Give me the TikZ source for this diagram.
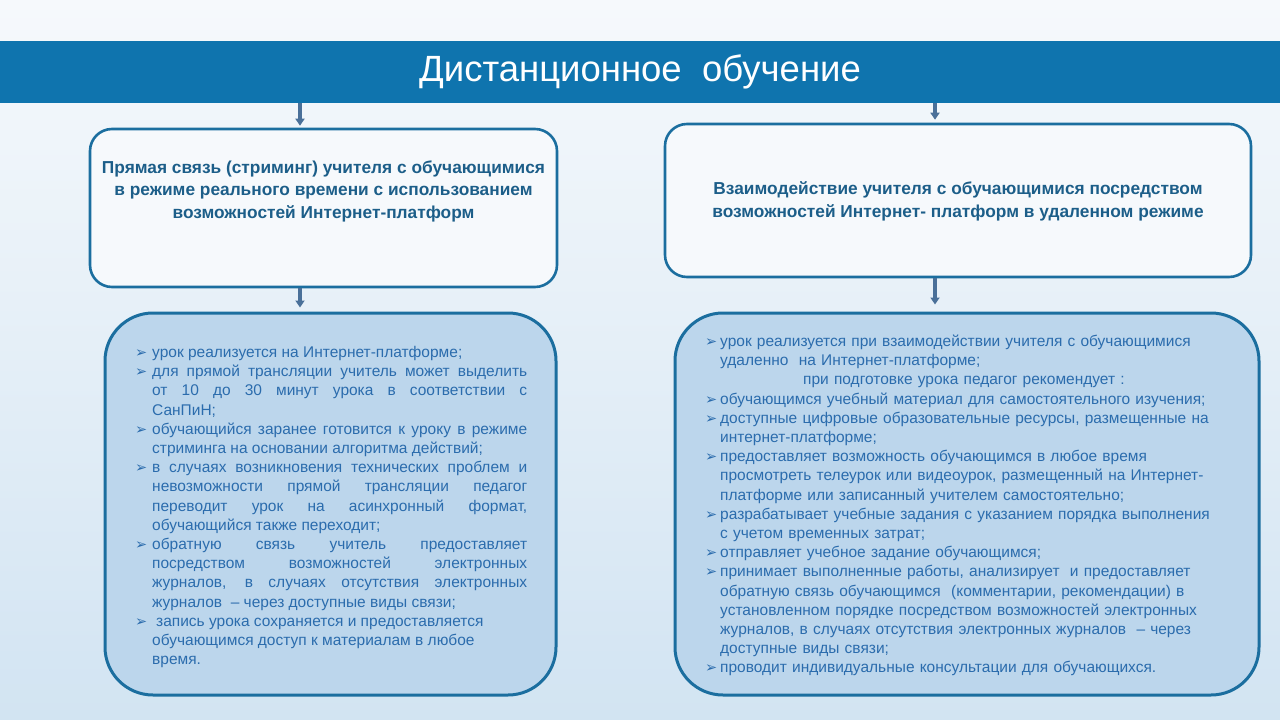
\documentclass[tikz,border=0pt]{standalone}
\usepackage{fontspec}
\setmainfont{Liberation Sans}
\newfontfamily\symfont{DejaVu Sans}
\usetikzlibrary{arrows.meta}
\definecolor{band}{HTML}{0F74AE}
\definecolor{edge}{HTML}{1B6E9F}
\definecolor{panel}{HTML}{BCD6EC}
\definecolor{headink}{HTML}{1C5E89}
\definecolor{bodyink}{HTML}{2B6CAD}
\definecolor{pointer}{HTML}{4A7099}
\definecolor{bgtop}{HTML}{F6F9FC}
\definecolor{bgbot}{HTML}{D2E4F2}
% bullet item with hanging indent
\newcommand\bul[1]{\par\hangindent=#1pt\hangafter=1\noindent
  \makebox[#1pt][l]{\fontsize{14.5}{14.5}\symfont\char"27A2}}

\begin{document}
\begin{tikzpicture}[x=1pt,y=-1pt,>=Stealth,
    headbox/.style={draw=edge,line width=2.6pt,fill=bgtop,rounded corners=22pt,inner sep=0pt},
    listbox/.style={draw=edge,line width=3pt,fill=panel,rounded corners=48pt,inner sep=0pt},
    headtext/.style={text=headink,font=\bfseries\fontsize{17.3}{22.5}\selectfont,align=center},
    bodytext/.style={text=bodyink,font=\fontsize{15.5}{19.2}\selectfont,inner sep=0pt,anchor=north west},
    pointarr/.style={->,pointer,line width=3.5pt,>={Triangle[length=7pt,width=9pt]}}]
  \shade[top color=bgtop,bottom color=bgbot] (0,0) rectangle (1280,720);
  \useasboundingbox (0,0) rectangle (1280,720);
  % title band
  \node[fill=band,minimum width=1280pt,minimum height=62pt,inner sep=0pt,anchor=north,
    text=white,font=\fontsize{36.5}{38}\selectfont] (title) at (640,41) {Дистанционное\ \ обучение};
  % upper boxes
  \node[headbox,minimum width=467pt,minimum height=158pt] (topL) at (323.5,208) {};
  \node[headbox,minimum width=586pt,minimum height=153pt] (topR) at (958,200.5) {};
  \node[headtext] (headL) at (323.5,191) {Прямая связь (стриминг) учителя с обучающимися\\
    в режиме реального времени с использованием\\возможностей Интернет-платформ};
  \node[headtext] (headR) at (958,201.5) {Взаимодействие учителя\ с обучающимися посредством\\
    возможностей Интернет- платформ в удаленном режиме};
  % lower boxes
  \node[listbox,minimum width=451pt,minimum height=382pt] (boxL) at (330.5,504) {};
  \node[listbox,minimum width=584pt,minimum height=382pt] (boxR) at (967,504) {};
  % arrows
  \coordinate (colL) at (300,0);
  \coordinate (colR) at (935,0);
  \draw[pointarr] (colL |- title.south) -- ([yshift=2pt]colL |- topL.north);
  \draw[pointarr] (colR |- title.south) -- ([yshift=3pt]colR |- topR.north);
  \draw[pointarr] (colL |- topL.south) -- ([yshift=4pt]colL |- boxL.north);
  \draw[pointarr] (colR |- topR.south) -- ([yshift=7pt]colR |- boxR.north);
  % left list
  \node[bodytext,text width=392pt,align=justify] (listL) at (135,338) {%
    \bul{17}урок реализуется\ на Интернет-платформе;
    \bul{17}для прямой трансляции учитель может выделить\linebreak
      от 10 до 30 минут урока в соответствии с\linebreak СанПиН;
    \bul{17}обучающийся заранее готовится к уроку в режиме\linebreak
      стриминга\ на основании\ алгоритма действий;
    \bul{17}в случаях возникновения технических проблем и\linebreak
      невозможности прямой трансляции педагог\linebreak
      переводит урок на асинхронный формат,\linebreak
      обучающийся\ также переходит;
    \bul{17}обратную связь учитель предоставляет\linebreak
      посредством возможностей электронных\linebreak
      журналов, в случаях отсутствия электронных\linebreak
      журналов\ \ – через доступные\ виды связи;
    \bul{17}\hspace{4pt}запись урока сохраняется и предоставляется\newline
      обучающимся\ доступ\ к материалам\ в любое\newline время.\par};
  % right list
  \node[bodytext,text width=540pt,align=left] (listR) at (705,327) {%
    \bul{15}урок реализуется\ при\ взаимодействии\ учителя\ с обучающимися\newline
      удаленно\ \ на Интернет-платформе;
    \par\noindent\hspace*{98pt}при подготовке урока\ педагог рекомендует :
    \bul{15}обучающимся\ учебный\ материал для\ самостоятельного изучения;
    \bul{15}доступные\ цифровые образовательные ресурсы, размещенные\ на\newline
      интернет-платформе;
    \bul{15}предоставляет возможность обучающимся\ в любое\ время\newline
      просмотреть телеурок или\ видеоурок, размещенный\ на Интернет-\newline
      платформе или\ записанный\ учителем\ самостоятельно;
    \bul{15}разрабатывает учебные\ задания\ с указанием\ порядка выполнения\newline
      с учетом\ временных затрат;
    \bul{15}отправляет учебное\ задание\ обучающимся;
    \bul{15}принимает\ выполненные\ работы, анализирует\ \ и предоставляет\newline
      обратную\ связь обучающимся\ \ (комментарии,\ рекомендации)\ в\newline
      установленном\ порядке посредством возможностей электронных\newline
      журналов,\ в случаях\ отсутствия электронных журналов\ \ – через\newline
      доступные\ виды связи;
    \bul{15}проводит индивидуальные\ консультации\ для\ обучающихся.\par};
\end{tikzpicture}
\end{document}
